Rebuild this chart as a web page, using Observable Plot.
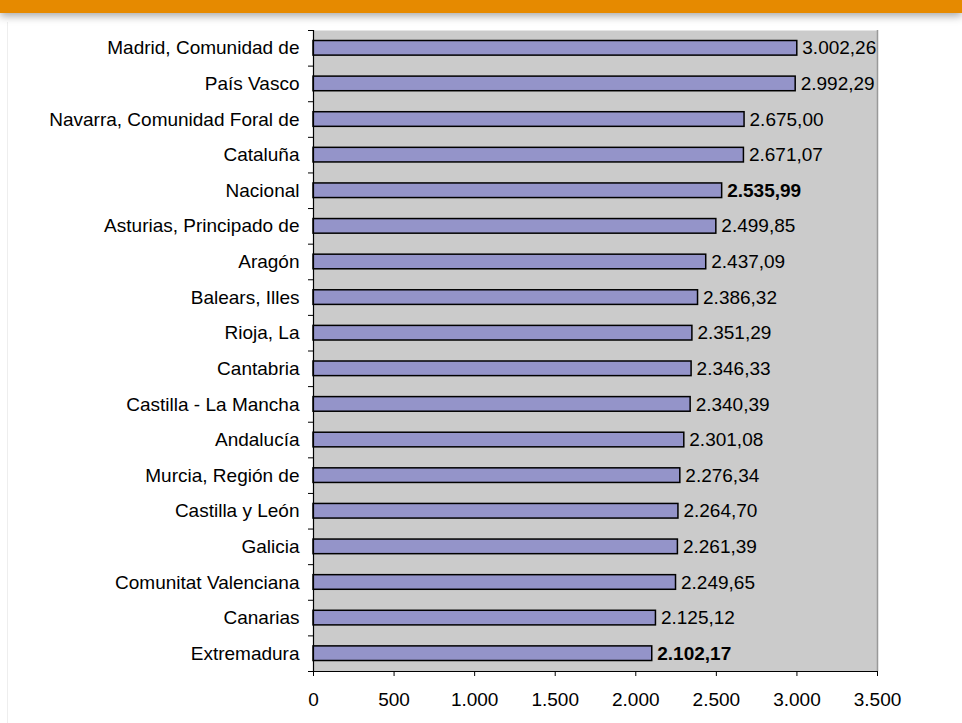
<!DOCTYPE html>
<html>
<head>
<meta charset="utf-8">
<script src="https://cdn.jsdelivr.net/npm/d3@7"></script>
<script src="https://cdn.jsdelivr.net/npm/@observablehq/plot@0.6"></script>
<style>
  html, body { margin: 0; padding: 0; background: #fff; }
  #wrap { position: relative; width: 962px; height: 723px; overflow: hidden; }
  #band { position: absolute; left: 0; top: 0; width: 962px; height: 13px; background: #E68A00;
          box-shadow: 0 3px 8px rgba(0,0,0,0.35); z-index: 2; }
  #edge { position: absolute; left: 7px; top: 22px; width: 1px; height: 701px; background: #eeeeee; }
  #chart { position: absolute; left: 0; top: 0; }
  svg text { font-family: "Liberation Sans", Arial, sans-serif; }
</style>
</head>
<body>
<div id="wrap">
  <div id="edge"></div>
  <div id="chart"></div>
  <div id="band"></div>
</div>
<script>
const regions = ["Madrid, Comunidad de", "País Vasco", "Navarra, Comunidad Foral de", "Cataluña", "Nacional",
  "Asturias, Principado de", "Aragón", "Balears, Illes", "Rioja, La", "Cantabria", "Castilla - La Mancha",
  "Andalucía", "Murcia, Región de", "Castilla y León", "Galicia", "Comunitat Valenciana", "Canarias", "Extremadura"];
const values = [3002.26, 2992.29, 2675.00, 2671.07, 2535.99, 2499.85, 2437.09, 2386.32, 2351.29, 2346.33, 2340.39,
  2301.08, 2276.34, 2264.70, 2261.39, 2249.65, 2125.12, 2102.17];
const boldLabels = ["Nacional", "Extremadura"];
const xTicks = [0, 500, 1000, 1500, 2000, 2500, 3000, 3500];

const data = regions.map((r, i) => ({region: r, value: values[i]}));
const es = d3.formatLocale({decimal: ",", thousands: ".", grouping: [3], currency: ["", " €"]});
const fmtVal = es.format(",.2f");
const fmtTick = es.format(",d");

const W = 962, H = 723, mT = 30, mB = 52, mL = 313, mR = 85;
const band = (H - mT - mB) / regions.length;
const xMax = 3500;
const pxPerUnit = (W - mL - mR) / xMax;
const tickLen = 5 / pxPerUnit;
const FS = 19;

const plot = Plot.plot({
  width: W, height: H,
  marginTop: mT, marginBottom: mB, marginLeft: mL, marginRight: mR,
  style: {fontSize: FS + "px", fontFamily: "Liberation Sans, Arial, sans-serif", color: "#000", background: "transparent"},
  x: {domain: [0, xMax], ticks: xTicks, tickFormat: fmtTick, label: null, round: false},
  y: {domain: regions, padding: 0, round: false, label: null},
  marks: [
    Plot.frame({fill: "#CBCBCB", stroke: null}),
    Plot.ruleX([xMax], {stroke: "#999", strokeWidth: 1.5}),
    Plot.barX(data, {y: "region", x: "value", fill: "#9494C9", stroke: "#000", strokeWidth: 1.5,
      insetTop: 10.5, insetBottom: 10.5}),
    Plot.text(data.filter(d => !boldLabels.includes(d.region)), {y: "region", x: "value", text: d => fmtVal(d.value),
      textAnchor: "start", dx: 5, fill: "#000", fontSize: FS}),
    Plot.text(data.filter(d => boldLabels.includes(d.region)), {y: "region", x: "value", text: d => fmtVal(d.value),
      textAnchor: "start", dx: 5, fill: "#000", fontWeight: "bold", fontSize: FS}),
    // y-axis boundary ticks (between categories)
    Plot.ruleY(regions, {y: d => d, x1: -tickLen, x2: 0, dy: -band / 2, stroke: "#000", clip: false}),
    Plot.ruleY([regions[regions.length - 1]], {y: d => d, x1: -tickLen, x2: xMax, dy: band / 2, stroke: "#000", clip: false}),
    Plot.ruleX([0], {stroke: "#000", strokeWidth: 1.2}),
    Plot.axisX({ticks: xTicks, tickFormat: fmtTick, tickSize: 5, tickPadding: 16, label: null, fontSize: FS}),
    Plot.axisY({tickSize: 0, tickPadding: 14, label: null, fontSize: FS})
  ]
});
document.getElementById("chart").appendChild(plot);
</script>
</body>
</html>
